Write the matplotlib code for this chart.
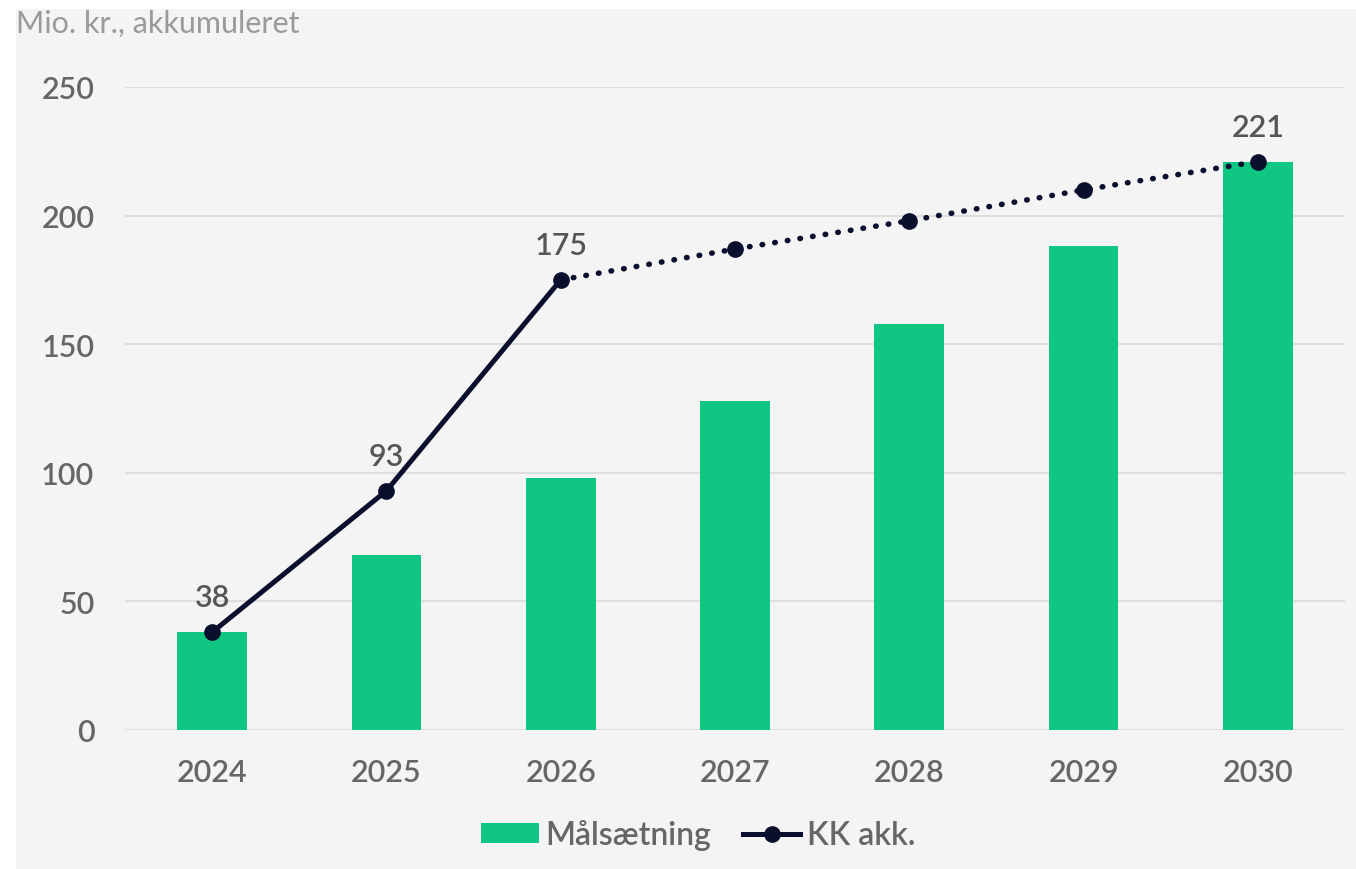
import numpy as np
import matplotlib.pyplot as plt
from matplotlib.patches import Rectangle
from matplotlib.lines import Line2D

plt.rcParams["font.family"] = ["Lato", "DejaVu Sans"]

years = ["2024", "2025", "2026", "2027", "2028", "2029", "2030"]
maal = [38, 68, 98, 128, 158, 188, 221]
kk_actual = [38, 93, 175]
kk_forecast = [175, 187, 198, 210, 221]
label_idx = [0, 1, 2, 6]
label_vals = [38, 93, 175, 221]

bar_col = "#0fc683"
line_col = "#0a0f2e"
txt_col = "#666666"

fig = plt.figure(figsize=(13.56, 8.7), dpi=100)
fig.patch.set_facecolor("white")
fig.patches.append(Rectangle((16 / 1356, 0), 1, 1 - 10 / 870, transform=fig.transFigure,
                             facecolor="#f4f4f4", edgecolor="none", zorder=-5))

ax = fig.add_axes([125 / 1356, 1 - 731 / 870, 1220 / 1356, (731 - 88) / 870])
ax.set_facecolor("none")

x = np.arange(len(years))
ax.bar(x, maal, width=0.4, color=bar_col, zorder=2)

ax.plot(x[:3], kk_actual, color=line_col, lw=3.6, marker="o", ms=11, zorder=3,
        solid_capstyle="round")
ax.plot(x[2:], kk_forecast, color=line_col, lw=4.0, linestyle=(0, (0.1, 2.2)),
        dash_capstyle="round", zorder=3)
ax.plot(x[3:], kk_forecast[1:], color=line_col, lw=0, marker="o", ms=11, zorder=3)

for i, v in zip(label_idx, label_vals):
    ax.annotate(str(v), (x[i], v), xytext=(0, 15), textcoords="offset points",
                ha="center", va="bottom", fontsize=22, color="#555555",
                fontweight="semibold")

ax.set_xlim(-0.5, 6.5)
ax.set_ylim(0, 250)
ax.set_yticks([0, 50, 100, 150, 200, 250])
ax.set_xticks(x)
ax.set_xticklabels(years)
ax.tick_params(axis="both", length=0, labelsize=22, colors=txt_col)
ax.tick_params(axis="y", pad=22)
ax.tick_params(axis="x", pad=20)
for lbl in ax.get_xticklabels() + ax.get_yticklabels():
    lbl.set_fontweight("semibold")
ax.grid(axis="y", color="#dedede", lw=1.5, zorder=0)
ax.set_axisbelow(True)
for s in ax.spines.values():
    s.set_visible(False)

# axis unit note, top left
fig.text(16 / 1356, 1 - 24 / 870, "Mio. kr., akkumuleret", fontsize=22, color="#9a9a9a",
         fontweight="normal", ha="left", va="center")

handles = [Rectangle((0, 0), 1, 1, facecolor=bar_col),
           Line2D([], [], color=line_col, lw=3.6, marker="o", ms=11)]
fig.legend(handles, ["Målsætning", "KK akk."], loc="center", bbox_to_anchor=(0.515, 1 - 836 / 870),
           ncol=2, frameon=False, labelcolor=txt_col, handlelength=1.8,
           handletextpad=0.2, columnspacing=1.0, handleheight=0.6,
           prop={"size": 23, "weight": "semibold"})

fig.savefig("out.png", dpi=100)
